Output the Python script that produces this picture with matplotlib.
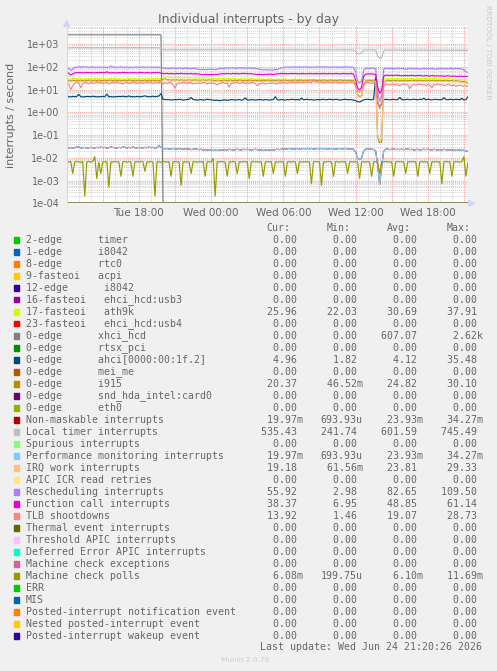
import numpy as np
import matplotlib
matplotlib.use("Agg")
import matplotlib.pyplot as plt
from matplotlib.patches import Polygon, Rectangle

# ---------------- data ----------------
# time axis: hours since Tue 00:00, samples every 10 minutes starting Tue 12:00
T_START = 12.0
T_STEP = 1.0 / 6.0
X_END = 45.34  # Wed 21:20

xtick_hours = [18, 24, 30, 36, 42]
xtick_labels = ["Tue 18:00", "Wed 00:00", "Wed 06:00", "Wed 12:00", "Wed 18:00"]
ytick_values = [1e-4, 1e-3, 1e-2, 1e-1, 1e0, 1e1, 1e2, 1e3]
ytick_labels = ["1e-04", "1e-03", "1e-02", "1e-01", "1e+00", "1e+01", "1e+02", "1e+03"]

xhci_hcd = [2615, 2620, 2620, 2618, 2620, 2620, 2620, 2619, 2620, 2620, 2617, 2620,
            2620, 2620, 2618, 2620, 2620, 2619, 2620, 2620, 2620, 2618, 2620, 2620,
            2620, 2619, 2620, 2620, 2620, 2618, 2620, 2620, 2619, 2620, 2620, 2620,
            2618, 2620, 2620, 2620, 2619, 2620, 2620, 2618, 2620, 2620, 2619, 2620] + [0.0] * 153

local_timer = [712, 715, 710, 745.5, 718, 714, 711, 716, 713, 709, 715, 712,
               714, 710, 717, 712, 709, 715, 713, 716, 711, 714, 718, 712,
               710, 714, 716, 711, 713, 715, 712, 709, 714, 717, 711, 713,
               715, 712, 710, 714, 716, 711, 713, 715, 712, 709, 714, 700,
               572, 568, 565, 570, 566, 563, 567, 564, 569, 565, 562, 566,
               564, 568, 563, 566, 569, 565, 562, 566, 564, 561, 565, 567,
               563, 560, 565, 562, 559, 564, 566, 562, 560, 564, 567, 563,
               561, 565, 563, 560, 564, 566, 563, 561, 566, 562, 560, 565,
               562, 559, 563, 561, 565, 560, 564, 562, 560, 563, 561, 566,
               563, 565, 561, 564, 562, 560, 565, 562, 564, 561, 563, 566,
               562, 564, 560, 565, 563, 561, 564, 561, 566, 562, 560, 563,
               561, 565, 562, 564, 566, 562, 563, 560, 564, 562, 565, 558,
               500, 385, 378, 430, 545, 562, 564, 560, 563, 559, 555, 310,
               241.74, 262, 515, 558, 561, 557, 556, 559, 554, 557, 553, 556,
               552, 555, 551, 554, 550, 553, 551, 548, 552, 549, 553, 550,
               548, 551, 547, 550, 546, 549, 547, 544, 548, 545, 549, 546,
               544, 542, 546, 543, 540, 544, 539, 537, 535.43]

rescheduling = [95, 88, 72, 80, 96, 100, 102, 98, 104, 99, 101, 97,
                100, 103, 98, 96, 101, 99, 97, 100, 95, 98, 109.5, 99,
                101, 96, 99, 103, 97, 100, 98, 95, 100, 97, 99, 101,
                96, 99, 102, 98, 95, 100, 99, 97, 101, 96, 100, 98,
                92, 88, 90, 86, 91, 89, 90, 87, 92, 88, 85, 91,
                89, 86, 84, 90, 88, 80, 78, 76, 79, 75, 77, 80,
                82, 78, 76, 80, 85, 90, 85, 90, 92, 89, 93, 90,
                91, 88, 94, 90, 92, 89, 90, 93, 87, 91, 89, 85,
                80, 76, 74, 77, 75, 73, 76, 72, 78, 75, 85, 92,
                97, 100, 98, 101, 99, 102, 100, 98, 103, 99, 101, 100,
                102, 99, 101, 98, 100, 103, 99, 101, 100, 102, 98, 100,
                101, 99, 102, 100, 98, 101, 100, 102, 99, 101, 100, 97,
                60, 25, 20, 24, 70, 88, 90, 86, 92, 88, 85, 8,
                2.98, 5, 80, 90, 86, 84, 88, 82, 86, 90, 84, 87,
                85, 78, 84, 88, 83, 86, 82, 86, 80, 84, 87, 83,
                86, 84, 88, 82, 80, 85, 84, 87, 83, 86, 82, 88,
                85, 83, 87, 84, 86, 80, 74, 64, 55.92]

function_call = [56, 55, 44, 50, 55, 57, 56, 57, 55, 56, 58, 56,
                 57, 56, 55, 57, 56, 58, 56, 57, 61.14, 56, 55, 57,
                 56, 55, 57, 56, 58, 56, 57, 56, 55, 57, 56, 55,
                 56, 58, 56, 55, 57, 56, 55, 57, 56, 58, 56, 55,
                 52, 51, 53, 50, 52, 51, 50, 52, 51, 53, 50, 51,
                 51, 50, 52, 49, 51, 50, 49, 47, 46, 48, 47, 46,
                 47, 46, 48, 47, 49, 50, 51, 50, 52, 51, 50, 52,
                 51, 52, 50, 51, 53, 51, 52, 50, 51, 49, 48, 47,
                 48, 47, 46, 48, 47, 49, 48, 47, 49, 50, 51, 52,
                 51, 52, 50, 51, 52, 51, 52, 51, 50, 52, 51, 50,
                 51, 52, 51, 50, 52, 51, 50, 51, 52, 51, 50, 52,
                 51, 50, 52, 51, 50, 51, 52, 51, 50, 51, 52, 49,
                 28, 12, 10, 13, 38, 48, 50, 49, 51, 48, 47, 14,
                 6.95, 9, 38, 44, 43, 42, 43, 42, 44, 43, 42, 41,
                 42, 43, 41, 42, 43, 42, 41, 42, 43, 41, 40, 42,
                 41, 40, 42, 41, 40, 41, 40, 41, 39, 40, 41, 40,
                 39, 40, 39, 38, 40, 39, 38, 39, 38.37]

ath9k = [31, 30, 29, 31, 32, 30, 30, 31, 30, 29, 31, 30,
         31, 30, 32, 31, 30, 31, 30, 29, 31, 30, 31, 32,
         31, 30, 30, 31, 29, 30, 30, 31, 32, 30, 31, 30,
         29, 30, 31, 30, 30, 31, 30, 31, 30, 32, 31, 30,
         33, 34, 37.91, 35, 33, 34, 34, 33, 35, 34, 33, 34,
         33, 34, 33, 32, 34, 33, 32, 33, 34, 33, 32, 33,
         33, 32, 31, 32, 33, 32, 31, 32, 30, 31, 30, 31,
         30, 29, 30, 31, 30, 29, 30, 29, 31, 30, 29, 30,
         29, 30, 29, 28, 29, 30, 29, 28, 29, 30, 29, 28,
         29, 30, 29, 28, 29, 30, 29, 28, 29, 29, 28, 29,
         28, 29, 28, 29, 28, 28, 28, 29, 28, 27, 28, 29,
         28, 27, 28, 28, 27, 28, 27, 28, 27, 28, 27, 28,
         26, 24, 23, 24, 27, 28, 28, 27, 28, 27, 28, 23,
         22.03, 23, 29, 31, 30, 31, 31, 30, 31, 32, 31, 30,
         31, 30, 31, 30, 31, 30, 30, 31, 30, 31, 30, 31,
         31, 30, 31, 32, 31, 30, 30, 31, 30, 29, 30, 31,
         30, 29, 30, 28, 29, 28, 27, 27, 25.96]

ahci = [4.9, 5.0, 4.8, 5.1, 4.9, 5.0, 6.3, 5.0, 4.8, 4.9, 5.1, 5.0,
        4.9, 5.2, 5.0, 4.8, 5.0, 4.9, 5.1, 5.0, 6.4, 4.9, 5.0, 4.8,
        5.0, 4.9, 5.1, 5.0, 5.2, 4.9, 5.0, 5.3, 4.9, 5.0, 4.8, 5.1,
        4.9, 5.0, 5.1, 5.4, 5.0, 4.9, 5.0, 5.2, 4.9, 5.1, 5.3, 6.8,
        3.8, 3.7, 3.6, 3.7, 3.5, 3.6, 3.7, 3.6, 3.8, 3.7, 3.5, 3.6,
        3.7, 3.8, 4.6, 3.7, 3.6, 3.5, 3.6, 3.7, 3.5, 3.6, 3.8, 3.7,
        3.6, 3.5, 3.4, 3.5, 3.3, 3.4, 3.5, 3.6, 3.4, 3.5, 3.7, 3.6,
        3.5, 3.6, 3.7, 3.5, 3.6, 4.4, 3.6, 3.5, 3.7, 3.6, 3.5, 3.6,
        3.7, 3.6, 3.5, 3.7, 3.6, 3.5, 3.6, 3.7, 5.0, 3.6, 3.5, 3.7,
        3.6, 3.5, 3.7, 3.6, 3.8, 3.7, 3.6, 3.7, 3.5, 4.3, 3.6, 3.7,
        3.8, 3.6, 3.7, 3.5, 3.6, 3.7, 3.6, 3.7, 3.8, 3.6, 3.7, 3.8,
        3.7, 3.6, 3.8, 3.7, 3.5, 3.6, 3.7, 3.8, 3.6, 3.7, 3.6, 3.5,
        3.3, 3.0, 2.9, 3.2, 3.6, 3.7, 3.8, 3.7, 3.6, 3.8, 35.48, 2.5,
        1.82, 2.4, 3.6, 3.8, 3.7, 3.6, 3.7, 3.8, 3.6, 3.7, 4.6, 3.7,
        3.6, 3.7, 3.8, 3.6, 3.7, 3.8, 3.7, 3.6, 3.8, 3.7, 4.2, 3.6,
        3.8, 3.7, 3.6, 3.7, 3.8, 3.6, 3.7, 3.6, 4.5, 3.7, 3.6, 3.8,
        3.7, 3.6, 3.8, 3.7, 3.6, 4.2, 3.5, 3.7, 4.96]

i915 = [26, 25, 24, 26, 25, 26, 25, 26, 25, 26, 25, 26,
        26, 25, 26, 25, 26, 25, 25, 26, 25, 26, 26, 25,
        26, 25, 26, 25, 25, 26, 25, 26, 26, 25, 26, 25,
        26, 25, 25, 26, 25, 26, 25, 26, 25, 26, 25, 26,
        27, 30.1, 28, 27, 26, 27, 26, 27, 26, 27, 26, 26,
        26, 27, 26, 26, 27, 26, 26, 26, 27, 26, 26, 27,
        26, 26, 25, 26, 26, 25, 26, 26, 25, 26, 26, 25,
        26, 25, 26, 26, 25, 26, 25, 26, 26, 25, 26, 25,
        26, 25, 26, 25, 26, 26, 25, 26, 25, 26, 26, 25,
        26, 26, 25, 26, 25, 26, 26, 25, 26, 26, 25, 26,
        25, 26, 26, 25, 26, 25, 26, 25, 26, 26, 25, 26,
        26, 25, 26, 25, 26, 26, 25, 26, 25, 26, 25, 25,
        18, 6, 5, 5.5, 16, 24, 25, 26, 25, 24, 25, 0.08,
        0.0465, 0.05, 20, 25, 26, 25, 25, 26, 25, 26, 25, 26,
        25, 26, 25, 25, 26, 25, 26, 25, 26, 25, 25, 26,
        25, 26, 25, 26, 25, 25, 26, 25, 25, 26, 25, 25,
        25, 24, 25, 24, 24, 23, 23, 22, 20.37]

irq_work = [24, 23, 22, 24, 23, 24, 23, 24, 23, 24, 23, 24,
            24, 23, 24, 23, 24, 23, 23, 24, 23, 24, 24, 23,
            24, 23, 24, 23, 23, 24, 23, 24, 24, 23, 24, 23,
            24, 23, 23, 24, 23, 24, 23, 24, 23, 24, 23, 24,
            25, 29.33, 26, 25, 24, 25, 24, 25, 24, 25, 24, 24,
            24, 25, 24, 24, 25, 24, 24, 24, 25, 24, 24, 25,
            24, 24, 23, 24, 24, 23, 24, 24, 23, 24, 24, 23,
            24, 23, 24, 24, 23, 24, 23, 24, 24, 23, 24, 23,
            24, 23, 24, 23, 24, 24, 23, 24, 23, 24, 24, 23,
            24, 24, 23, 24, 23, 24, 24, 23, 24, 24, 23, 24,
            23, 24, 24, 23, 24, 23, 24, 23, 24, 24, 23, 24,
            24, 23, 24, 23, 24, 24, 23, 24, 23, 24, 23, 23,
            17, 5.5, 4.6, 5, 15, 22, 23, 24, 23, 22, 23, 0.09,
            0.0616, 0.065, 18, 23, 24, 23, 23, 24, 23, 24, 23, 24,
            23, 24, 23, 23, 24, 23, 24, 23, 24, 23, 23, 24,
            23, 24, 23, 24, 23, 23, 24, 23, 23, 24, 23, 23,
            23, 22, 23, 22, 22, 21, 21, 20, 19.18]

tlb = [20, 18, 10, 15, 19, 21, 20, 12, 19, 21, 20, 18,
       21, 20, 19, 22, 20, 21, 19, 20, 21, 18, 20, 21,
       20, 22, 19, 20, 18, 20, 21, 19, 20, 22, 21, 19,
       20, 21, 19, 20, 22, 20, 21, 19, 20, 21, 20, 22,
       18, 20, 19, 21, 20, 17, 12, 18, 20, 19, 21, 20,
       19, 21, 20, 18, 20, 19, 20, 19, 21, 20, 18, 20,
       19, 20, 18, 16, 19, 20, 21, 19, 20, 13, 19, 20,
       20, 21, 19, 20, 21, 19, 20, 19, 21, 20, 19, 15,
       18, 19, 20, 18, 19, 20, 19, 20, 18, 19, 21, 20,
       21, 20, 19, 21, 20, 22, 20, 21, 22, 20, 21, 20,
       22, 21, 20, 28.73, 21, 22, 21, 22, 20, 21, 22, 21,
       20, 21, 22, 21, 20, 21, 21, 20, 21, 22, 21, 20,
       15, 9, 8, 10, 16, 20, 21, 20, 19, 21, 20, 3,
       1.46, 2.5, 14, 18, 17, 16, 17, 18, 16, 17, 15, 17,
       18, 16, 17, 11, 16, 17, 16, 17, 18, 16, 17, 15,
       17, 16, 12, 17, 16, 18, 16, 17, 15, 16, 17, 16,
       15, 16, 14, 15, 16, 15, 14, 15, 13.92]

# NMI and performance monitoring interrupts have identical values
pmi = [0.028, 0.027, 0.029, 0.026, 0.028, 0.030, 0.031, 0.027, 0.028, 0.029, 0.027, 0.028,
       0.029, 0.028, 0.027, 0.029, 0.028, 0.030, 0.028, 0.029, 0.027, 0.028, 0.030, 0.029,
       0.028, 0.027, 0.029, 0.028, 0.030, 0.029, 0.027, 0.029, 0.028, 0.030, 0.028, 0.027,
       0.029, 0.028, 0.027, 0.029, 0.028, 0.030, 0.028, 0.029, 0.027, 0.028, 0.0343, 0.029,
       0.026, 0.025, 0.026, 0.024, 0.025, 0.026, 0.025, 0.024, 0.026, 0.025, 0.024, 0.025,
       0.024, 0.025, 0.023, 0.024, 0.025, 0.024, 0.023, 0.024, 0.022, 0.023, 0.022, 0.023,
       0.022, 0.021, 0.022, 0.021, 0.022, 0.023, 0.022, 0.023, 0.022, 0.024, 0.023, 0.022,
       0.023, 0.024, 0.023, 0.022, 0.024, 0.023, 0.024, 0.023, 0.022, 0.023, 0.024, 0.023,
       0.022, 0.023, 0.021, 0.022, 0.023, 0.022, 0.023, 0.022, 0.023, 0.024, 0.023, 0.024,
       0.025, 0.024, 0.025, 0.026, 0.025, 0.024, 0.025, 0.026, 0.024, 0.025, 0.026, 0.025,
       0.026, 0.025, 0.026, 0.024, 0.025, 0.026, 0.025, 0.026, 0.025, 0.026, 0.024, 0.025,
       0.026, 0.025, 0.024, 0.025, 0.026, 0.025, 0.025, 0.026, 0.025, 0.024, 0.025, 0.024,
       0.018, 0.0095, 0.0085, 0.010, 0.020, 0.024, 0.025, 0.024, 0.025, 0.023, 0.020, 0.005,
       0.00069, 0.004, 0.020, 0.024, 0.025, 0.023, 0.024, 0.025, 0.023, 0.024, 0.023, 0.024,
       0.023, 0.024, 0.025, 0.023, 0.024, 0.022, 0.023, 0.024, 0.022, 0.023, 0.024, 0.023,
       0.024, 0.023, 0.022, 0.024, 0.023, 0.022, 0.023, 0.022, 0.024, 0.023, 0.022, 0.023,
       0.022, 0.023, 0.021, 0.022, 0.023, 0.021, 0.022, 0.020, 0.01997]

mc_polls = [0.0068, 0.0065, 0.0070, 0.0020, 0.0066, 0.0069, 0.0067, 0.0064, 0.0068, 0.0002, 0.0066, 0.0070,
            0.0065, 0.0069, 0.0117, 0.0012, 0.0067, 0.0020, 0.0068, 0.0066, 0.0069, 0.0005, 0.0067, 0.0065,
            0.0070, 0.0066, 0.0068, 0.0015, 0.0067, 0.0069, 0.0065, 0.0068, 0.0066, 0.0015, 0.0069, 0.0067,
            0.0066, 0.0069, 0.0067, 0.0025, 0.0068, 0.0065, 0.0069, 0.0066, 0.0002, 0.0068, 0.0067, 0.0064,
            0.0066, 0.0069, 0.0065, 0.0068, 0.0015, 0.0067, 0.0069, 0.0066, 0.0068, 0.0006, 0.0067, 0.0065,
            0.0068, 0.0066, 0.0020, 0.0069, 0.0067, 0.0065, 0.0068, 0.0066, 0.0069, 0.0015, 0.0067, 0.0068,
            0.0066, 0.0095, 0.0002, 0.0068, 0.0066, 0.0069, 0.0067, 0.0065, 0.0015, 0.0068, 0.0066, 0.0069,
            0.0067, 0.0020, 0.0068, 0.0065, 0.0069, 0.0066, 0.0068, 0.0012, 0.0067, 0.0069, 0.0066, 0.0068,
            0.0065, 0.0069, 0.0015, 0.0067, 0.0068, 0.0066, 0.0069, 0.0020, 0.0067, 0.0065, 0.0068, 0.0066,
            0.0069, 0.0015, 0.0067, 0.0068, 0.0065, 0.0069, 0.0066, 0.0020, 0.0068, 0.0067, 0.0065, 0.0069,
            0.0066, 0.0068, 0.0007, 0.0067, 0.0069, 0.0066, 0.0068, 0.0006, 0.0067, 0.0065, 0.0069, 0.0068,
            0.0066, 0.0015, 0.0069, 0.0067, 0.0065, 0.0068, 0.0066, 0.0069, 0.0020, 0.0067, 0.0068, 0.0065,
            0.0069, 0.0066, 0.0012, 0.0068, 0.0067, 0.0065, 0.0068, 0.0066, 0.0015, 0.0069, 0.0067, 0.0065,
            0.0020, 0.0068, 0.0066, 0.0069, 0.0067, 0.0065, 0.0068, 0.0015, 0.0066, 0.0069, 0.0067, 0.0068,
            0.0065, 0.0020, 0.0068, 0.0066, 0.0069, 0.0067, 0.0068, 0.0015, 0.0066, 0.0069, 0.0065, 0.0068,
            0.0067, 0.0020, 0.0068, 0.0066, 0.0069, 0.0065, 0.0068, 0.0007, 0.0066, 0.0069, 0.0067, 0.0068,
            0.0015, 0.0066, 0.0069, 0.0067, 0.0065, 0.0068, 0.0117, 0.0015, 0.00608]

legend_labels = [
    "2-edge      timer", "1-edge      i8042", "8-edge      rtc0", "9-fasteoi   acpi",
    "12-edge      i8042", "16-fasteoi   ehci_hcd:usb3", "17-fasteoi   ath9k",
    "23-fasteoi   ehci_hcd:usb4", "0-edge      xhci_hcd", "0-edge      rtsx_pci",
    "0-edge      ahci[0000:00:1f.2]", "0-edge      mei_me", "0-edge      i915",
    "0-edge      snd_hda_intel:card0", "0-edge      eth0", "Non-maskable interrupts",
    "Local timer interrupts", "Spurious interrupts", "Performance monitoring interrupts",
    "IRQ work interrupts", "APIC ICR read retries", "Rescheduling interrupts",
    "Function call interrupts", "TLB shootdowns", "Thermal event interrupts",
    "Threshold APIC interrupts", "Deferred Error APIC interrupts", "Machine check exceptions",
    "Machine check polls", "ERR", "MIS", "Posted-interrupt notification event",
    "Nested posted-interrupt event", "Posted-interrupt wakeup event"]

legend_colors = [
    "#00CC00", "#0066B3", "#FF8000", "#FFCC00", "#330099", "#990099", "#CCFF00", "#FF0000",
    "#808080", "#008F00", "#00487D", "#B35A00", "#B38F00", "#6B006B", "#8FB300", "#B30000",
    "#BEBEBE", "#80FF80", "#80C9FF", "#FFC080", "#FFE680", "#AA80FF", "#EE00CC", "#FF8080",
    "#666600", "#FFBFFF", "#00FFCC", "#CC6699", "#999900", "#00CC00", "#0066B3", "#FF8000",
    "#FFCC00", "#330099"]

Z = "0.00"
cur_vals = [Z, Z, Z, Z, Z, Z, "25.96", Z, Z, Z, "4.96", Z, "20.37", Z, Z, "19.97m",
            "535.43", Z, "19.97m", "19.18", Z, "55.92", "38.37", "13.92", Z, Z, Z, Z,
            "6.08m", Z, Z, Z, Z, Z]
min_vals = [Z, Z, Z, Z, Z, Z, "22.03", Z, Z, Z, "1.82", Z, "46.52m", Z, Z, "693.93u",
            "241.74", Z, "693.93u", "61.56m", Z, "2.98", "6.95", "1.46", Z, Z, Z, Z,
            "199.75u", Z, Z, Z, Z, Z]
avg_vals = [Z, Z, Z, Z, Z, Z, "30.69", Z, "607.07", Z, "4.12", Z, "24.82", Z, Z, "23.93m",
            "601.59", Z, "23.93m", "23.81", Z, "82.65", "48.85", "19.07", Z, Z, Z, Z,
            "6.10m", Z, Z, Z, Z, Z]
max_vals = [Z, Z, Z, Z, Z, Z, "37.91", Z, "2.62k", Z, "35.48", Z, "30.10", Z, Z, "34.27m",
            "745.49", Z, "34.27m", "29.33", Z, "109.50", "61.14", "28.73", Z, Z, Z, Z,
            "11.69m", Z, Z, Z, Z, Z]

title = "Individual interrupts - by day"
ylabel = "interrupts / second"
last_update = "Last update: Wed Jun 24 21:20:26 2026"

# series index (legend order) -> values
series_data = {6: ath9k, 8: xhci_hcd, 10: ahci, 12: i915, 15: pmi, 16: local_timer,
               18: pmi, 19: irq_work, 21: rescheduling, 22: function_call, 23: tlb,
               28: mc_polls}

# ---------------- figure ----------------
W, H = 497, 671
FONT = "#666666"
AXISC = "#CFD6F8"
fig = plt.figure(figsize=(W / 100, H / 100), dpi=100, facecolor="#F0F0F0")


def fx(px):
    return px / W


def fy(py):
    return 1 - py / H


AX_L, AX_R, AX_T, AX_B = 66.7, 468.0, 26.0, 203.3
ax = fig.add_axes([fx(AX_L), fy(AX_B), (AX_R - AX_L) / W, (AX_B - AX_T) / H])
ax.set_facecolor("white")
YMIN, YMAX = 1e-4, 6.4e3
ax.set_yscale("log")
ax.set_ylim(YMIN, YMAX)
ax.set_xlim(T_START, X_END)

# grid
dotted = (0, (1, 1))
for h in range(13, 46):
    if h % 3 == 0:
        ax.axvline(h, color="#F2A0A0", lw=0.75, ls=dotted, zorder=0.6)
    else:
        ax.axvline(h, color="#D4D4D4", lw=0.75, ls=dotted, zorder=0.5)
for e in range(-4, 4):
    for m in range(1, 10):
        v = m * 10.0 ** e
        if v >= YMAX or v <= YMIN and m > 1:
            continue
        if m == 1:
            ax.axhline(v, color="#F2A0A0", lw=0.75, ls=dotted, zorder=0.6)
        else:
            ax.axhline(v, color="#D4D4D4", lw=0.75, ls=dotted, zorder=0.5)

# series
n_default = len(local_timer)
for i, col in enumerate(legend_colors):
    vals = np.asarray(series_data.get(i, [0.0] * n_default), dtype=float)
    t = T_START + np.arange(len(vals)) * T_STEP
    yv = np.where(vals > 0, vals, YMIN)
    ax.plot(t, yv, color=col, lw=0.85, zorder=2, solid_joinstyle="miter")

ax.set_xticks(xtick_hours, xtick_labels)
ax.set_yticks(ytick_values, ytick_labels)
ax.minorticks_off()
ax.tick_params(axis="both", length=0, colors=FONT)
ax.tick_params(axis="y", labelsize=7, pad=5.3)
ax.tick_params(axis="x", labelsize=7.5, pad=3.5)
for s in ["top", "right", "bottom"]:
    ax.spines[s].set_visible(False)
ax.spines["left"].set_color(AXISC)
ax.spines["left"].set_linewidth(0.75)

# arrows
fig.patches.append(Polygon([[fx(63.7), fy(26.5)], [fx(69.7), fy(26.5)], [fx(66.7), fy(20.5)]],
                           closed=True, transform=fig.transFigure, color=AXISC, zorder=5))
fig.patches.append(Polygon([[fx(468.5), fy(200.3)], [fx(468.5), fy(206.3)], [fx(474.5), fy(203.3)]],
                           closed=True, transform=fig.transFigure, color=AXISC, zorder=5))

# texts
fig.text(fx(248.5), fy(19), title, ha="center", va="center", fontsize=9, color=FONT)
fig.text(fx(10.7), fy(115), ylabel, rotation=90, ha="center", va="center", fontsize=8, color=FONT)
fig.text(fx(488), fy(5), "RRDTOOL / TOBI OETIKER", rotation=270, ha="center", va="top",
         fontsize=5.3, color="#C8C8C8")

MONO = "DejaVu Sans Mono"
LFS = 7.15
for hx, htxt in zip([266.7, 326.7, 386.7, 446.7], ["Cur:", "Min:", "Avg:", "Max:"]):
    fig.text(fx(hx), fy(228.3), htxt, ha="left", va="center", family=MONO, fontsize=LFS, color=FONT)


def fmt(s):
    if s[-1].isalpha():
        return "%6s%s" % (s[:-1], s[-1])
    return "%6s " % s


col_x = [260.8, 320.7, 380.7, 440.7]
for i, (lab, col) in enumerate(zip(legend_labels, legend_colors)):
    yy = 239.8 + 12.0 * i
    fig.patches.append(Rectangle((fx(14), fy(yy + 2.7)), 5.4 / W, 5.4 / H,
                                 transform=fig.transFigure, color=col, zorder=5))
    fig.text(fx(26), fy(yy), lab, ha="left", va="center", family=MONO, fontsize=LFS, color=FONT)
    for cx, vals in zip(col_x, [cur_vals, min_vals, avg_vals, max_vals]):
        fig.text(fx(cx), fy(yy), fmt(vals[i]), ha="left", va="center", family=MONO,
                 fontsize=LFS, color=FONT)

fig.text(fx(482.3), fy(646.7), last_update, ha="right", va="center", family=MONO,
         fontsize=LFS, color=FONT)
fig.text(fx(245.5), fy(660), "Munin 2.0.76", ha="center", va="center", fontsize=5.3,
         color="#CCCCCC")

fig.savefig("out.png", dpi=100, facecolor=fig.get_facecolor())
